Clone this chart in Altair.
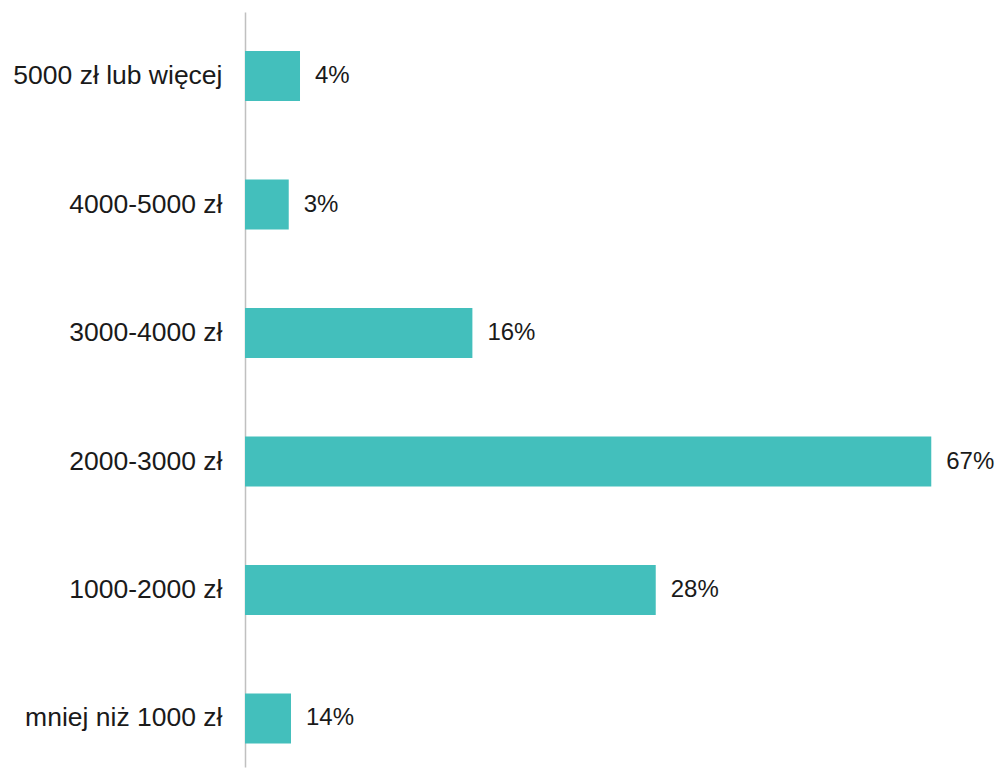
import altair as alt
import pandas as pd

categories = ["5000 zł lub więcej", "4000-5000 zł", "3000-4000 zł",
              "2000-3000 zł", "1000-2000 zł", "mniej niż 1000 zł"]
bar_lengths = [5.37, 4.27, 22.2, 67.0, 40.1, 4.49]
labels = ["4%", "3%", "16%", "67%", "28%", "14%"]

df = pd.DataFrame({"cat": categories, "val": bar_lengths, "label": labels})

FONT = "Liberation Sans"

y_enc = alt.Y("cat:N", sort=categories,
              scale=alt.Scale(paddingInner=0.6109, paddingOuter=0.2432, align=0.624),
              axis=alt.Axis(title=None, ticks=False, labelPadding=23, labelFont=FONT,
                            labelFontSize=26.5, labelColor="#1a1a1a", domainColor="#c0c0c0",
                            domainWidth=1.5, labelLimit=400))
x_enc = alt.X("val:Q", scale=alt.Scale(domain=[0, 70], nice=False), axis=None)

bars = alt.Chart(df).mark_bar(color="#43BFBC").encode(y=y_enc, x=x_enc)
text = alt.Chart(df).mark_text(align="left", baseline="middle", dx=15, font=FONT,
                               fontSize=24, color="#1a1a1a", clip=False).encode(
    y=alt.Y("cat:N", sort=categories), x="val:Q", text="label:N")

chart = (bars + text).properties(
    width=717, height=755,
    autosize=alt.AutoSizeParams(type="none"),
    padding={"left": 237, "top": 4, "right": 34, "bottom": 2},
).configure_view(stroke=None).configure_axis(grid=False)

chart.save("out.html", embed_options={"renderer": "svg", "actions": False})
